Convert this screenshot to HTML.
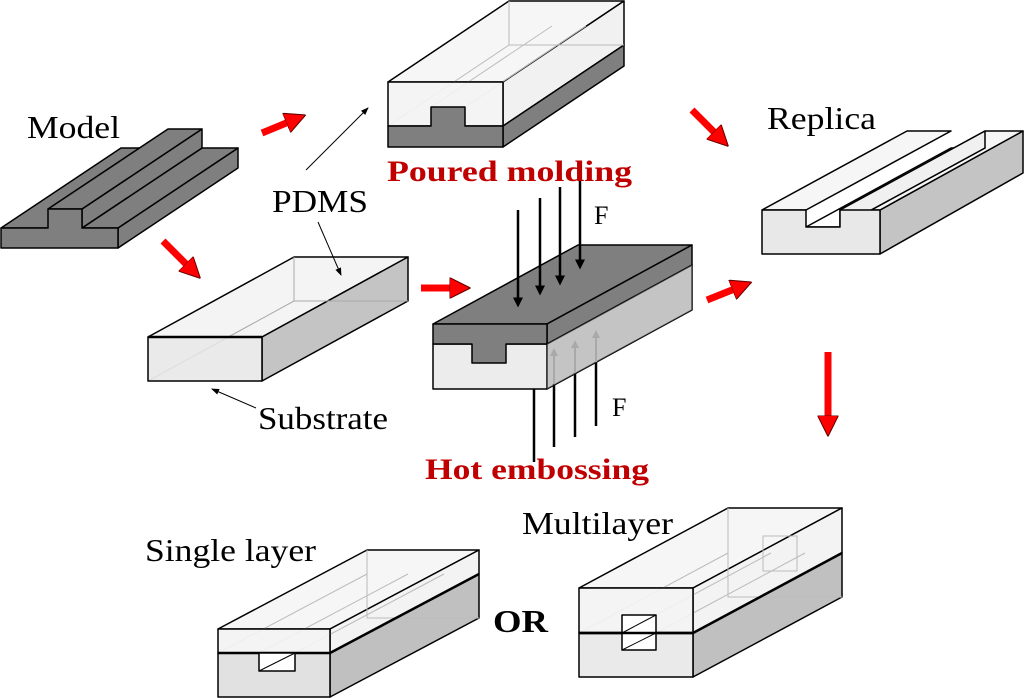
<!DOCTYPE html>
<html><head><meta charset="utf-8"><style>
html,body{margin:0;padding:0;background:#fff;}
svg{display:block;}
text{font-family:"Liberation Serif",serif;}
</style></head><body>
<svg width="1024" height="698" viewBox="0 0 1024 698" xmlns="http://www.w3.org/2000/svg">
<defs>
<marker id="rh" markerWidth="3" markerHeight="3" refX="1.5" refY="1.5" orient="auto" markerUnits="strokeWidth"><path d="M0,0 L3,1.5 L0,3 z" fill="#ff0000" stroke="#600" stroke-width="0.15"/></marker>
<marker id="bh" markerWidth="8" markerHeight="6" refX="7" refY="3" orient="auto" markerUnits="strokeWidth"><path d="M0,0 L8,3 L0,6 z" fill="#000"/></marker>
<marker id="kh" markerWidth="4" markerHeight="4" refX="3" refY="2" orient="auto" markerUnits="strokeWidth"><path d="M0,0 L4,2 L0,4 z" fill="#000"/></marker>
<marker id="gh" markerWidth="4" markerHeight="4" refX="3" refY="2" orient="auto" markerUnits="strokeWidth"><path d="M0,0 L4,2 L0,4 z" fill="#999"/></marker>
</defs>
<g stroke="#000" stroke-width="1.5" stroke-linejoin="round">

<!-- Model -->
<g fill="#7f7f7f">
<polygon points="118,228 238,148 238,168 118,248"/>
<polygon points="1,228 48,228 168,148 121,148"/>
<polygon points="82,228 118,228 238,148 202,148"/>
<polygon points="82,209 82,228 202,148 202,129"/>
<polygon points="48,209 82,209 202,129 168,129"/>
<polygon points="1,228 48,228 48,209 82,209 82,228 118,228 118,248 1,248"/>
</g>

<!-- Poured molding -->
<polygon points="388,82 503,82 624,1 509,1" fill="#f6f6f6"/>
<polygon points="503,82 624,1 624,45 503,126" fill="#f1f1f1"/>
<polygon points="503,126 624,45 624,66 503,147" fill="#7f7f7f"/>
<g stroke="#bbb" stroke-width="1" fill="none">
<polyline points="509,1 509,45 624,45"/>
<line x1="388" y1="126" x2="509" y2="45"/>
<line x1="431" y1="107" x2="552" y2="26"/>
<line x1="465" y1="107" x2="586" y2="26"/>
</g>
<polygon points="388,82 503,82 503,126 388,126" fill="#f3f3f3" fill-opacity="0.9"/>
<polygon points="388,126 431,126 431,107 465,107 465,126 503,126 503,147 388,147" fill="#7f7f7f"/>

<!-- Substrate -->
<polygon points="148,337 262,337 408,257 294,257" fill="#f4f4f4"/>
<polygon points="262,337 408,257 408,301 262,381" fill="#c4c4c4"/>
<g stroke="#aaa" stroke-width="1" fill="none">
<polyline points="294,257 294,301 408,301"/>
<line x1="148" y1="381" x2="294" y2="301"/>
</g>
<rect x="148" y="337" width="114" height="44" fill="#e6e6e6" fill-opacity="0.85"/>
<line x1="148" y1="337" x2="262" y2="337" stroke-width="2.5"/>

<!-- Hot embossing block -->
<polygon points="547,344 692,265 692,310 547,389" fill="#c2c2c2"/>
<polygon points="433,324 547,324 692,245 578,245" fill="#7f7f7f"/>
<polygon points="547,324 692,245 692,265 547,344" fill="#7f7f7f"/>
<rect x="433" y="344" width="114" height="45" fill="#ececec"/>
<polygon points="433,324 547,324 547,344 506,344 506,363 472,363 472,344 433,344" fill="#7f7f7f"/>

<!-- Replica -->
<polygon points="880,210 1023,131 1023,173 880,254" fill="#c4c4c4"/>
<polygon points="762,210 806,210 951,131 907,131" fill="#f6f6f6"/>
<polygon points="840,210 880,210 1023,131 985,131" fill="#f6f6f6"/>
<polygon points="806,227 840,227 985,148 951,148" fill="#fff"/>
<polygon points="840,210 840,227 985,148 985,131" fill="#f0f0f0"/>
<polygon points="762,210 806,210 806,227 840,227 840,210 880,210 880,254 762,254" fill="#e8e8e8"/>

<!-- Single layer -->
<polygon points="218,629 330,629 479,550 367,550" fill="#f6f6f6"/>
<polygon points="330,629 479,550 479,574 330,653" fill="#f3f3f3"/>
<polygon points="330,653 479,574 479,618 330,697" fill="#c0c0c0"/>
<g stroke="#bbb" stroke-width="1" fill="none">
<polyline points="367,550 367,618 479,618"/>
<line x1="218" y1="653" x2="367" y2="574"/>
<line x1="259" y1="653" x2="408" y2="574"/>
<line x1="295" y1="653" x2="444" y2="574"/>
</g>
<rect x="218" y="629" width="112" height="24" fill="#f3f3f3" fill-opacity="0.9"/>
<rect x="218" y="653" width="112" height="44" fill="#dedede" fill-opacity="0.9"/>
<line x1="218" y1="653" x2="330" y2="653" stroke-width="2.5"/>
<line x1="330" y1="653" x2="479" y2="574" stroke-width="2.5"/>
<rect x="259" y="653" width="36" height="18" fill="#fff"/>
<line x1="259" y1="671" x2="295" y2="653" stroke-width="1"/>

<!-- Multilayer -->
<polygon points="579,588 693,588 842,508 728,508" fill="#f6f6f6"/>
<polygon points="693,588 842,508 842,553 693,633" fill="#f3f3f3"/>
<polygon points="693,633 842,553 842,597 693,677" fill="#c0c0c0"/>
<g stroke="#bbb" stroke-width="1" fill="none">
<polyline points="728,508 728,597 842,597"/>
<line x1="579" y1="633" x2="728" y2="553"/>
<line x1="622" y1="633" x2="771" y2="553"/>
<line x1="656" y1="633" x2="805" y2="553"/>
<rect x="763" y="536" width="34" height="35"/>
</g>
<rect x="579" y="588" width="114" height="45" fill="#f3f3f3" fill-opacity="0.9"/>
<rect x="579" y="633" width="114" height="44" fill="#e8e8e8" fill-opacity="0.9"/>
<line x1="579" y1="633" x2="693" y2="633" stroke-width="2.5"/>
<line x1="693" y1="633" x2="842" y2="553" stroke-width="2.5"/>
<rect x="622" y="615" width="34" height="35" fill="#fff"/>
<line x1="579" y1="633" x2="693" y2="633" stroke-width="2.5"/>
<line x1="622" y1="633" x2="656" y2="615" stroke-width="1"/>
<line x1="622" y1="650" x2="656" y2="633" stroke-width="1"/>
</g>

<!-- force arrows -->
<g stroke="#000" stroke-width="2.5" fill="none">
<line x1="518" y1="210" x2="518" y2="305" marker-end="url(#kh)"/>
<line x1="540" y1="198" x2="540" y2="293" marker-end="url(#kh)"/>
<line x1="560" y1="187" x2="560" y2="283" marker-end="url(#kh)"/>
<line x1="580" y1="180" x2="580" y2="267" marker-end="url(#kh)"/>
<line x1="534" y1="462" x2="534" y2="389"/>
<line x1="554" y1="447" x2="554" y2="384"/>
<line x1="575" y1="437" x2="575" y2="373"/>
<line x1="596" y1="426" x2="596" y2="362"/>
</g>
<g stroke="#999" stroke-width="2" fill="none">
<line x1="554" y1="384" x2="554" y2="350" marker-end="url(#gh)"/>
<line x1="575" y1="373" x2="575" y2="342" marker-end="url(#gh)"/>
<line x1="596" y1="362" x2="596" y2="332" marker-end="url(#gh)"/>
</g>
<polygon points="547,344 692,265 692,310 547,389" fill="#c8c8c8" fill-opacity="0.35"/>

<!-- thin label arrows -->
<g stroke="#000" stroke-width="1" fill="none">
<line x1="306" y1="170" x2="368" y2="108" marker-end="url(#bh)"/>
<line x1="318" y1="222" x2="341" y2="275" marker-end="url(#bh)"/>
<line x1="256" y1="408" x2="212" y2="389" marker-end="url(#bh)"/>
</g>

<!-- red arrows -->
<g stroke="#ff0000" stroke-width="7" fill="none">
<line x1="262" y1="133" x2="296" y2="119" marker-end="url(#rh)"/>
<line x1="163" y1="241" x2="193" y2="271" marker-end="url(#rh)"/>
<line x1="421" y1="288" x2="460" y2="288" marker-end="url(#rh)"/>
<line x1="692" y1="110" x2="721" y2="139" marker-end="url(#rh)"/>
<line x1="707" y1="300" x2="742" y2="286" marker-end="url(#rh)"/>
<line x1="828" y1="352" x2="828" y2="426" marker-end="url(#rh)"/>
</g>

<!-- labels -->
<g font-size="32" fill="#000">
<text x="27" y="138" textLength="93" lengthAdjust="spacingAndGlyphs">Model</text>
<text x="272" y="212" textLength="96" lengthAdjust="spacingAndGlyphs">PDMS</text>
<text x="767" y="129" textLength="109" lengthAdjust="spacingAndGlyphs">Replica</text>
<text x="258" y="429" textLength="130" lengthAdjust="spacingAndGlyphs">Substrate</text>
<text x="145" y="561" textLength="171" lengthAdjust="spacingAndGlyphs">Single layer</text>
<text x="522" y="534" textLength="151" lengthAdjust="spacingAndGlyphs">Multilayer</text>
<text x="594" y="224" font-size="26">F</text>
<text x="612" y="416" font-size="26">F</text>
<text x="493" y="632" font-weight="bold" textLength="55" lengthAdjust="spacingAndGlyphs">OR</text>
</g>
<g font-size="30" font-weight="bold" fill="#c00000">
<text x="387" y="181" textLength="245" lengthAdjust="spacingAndGlyphs">Poured molding</text>
<text x="425" y="479" textLength="224" lengthAdjust="spacingAndGlyphs">Hot embossing</text>
</g>
</svg>
</body></html>
